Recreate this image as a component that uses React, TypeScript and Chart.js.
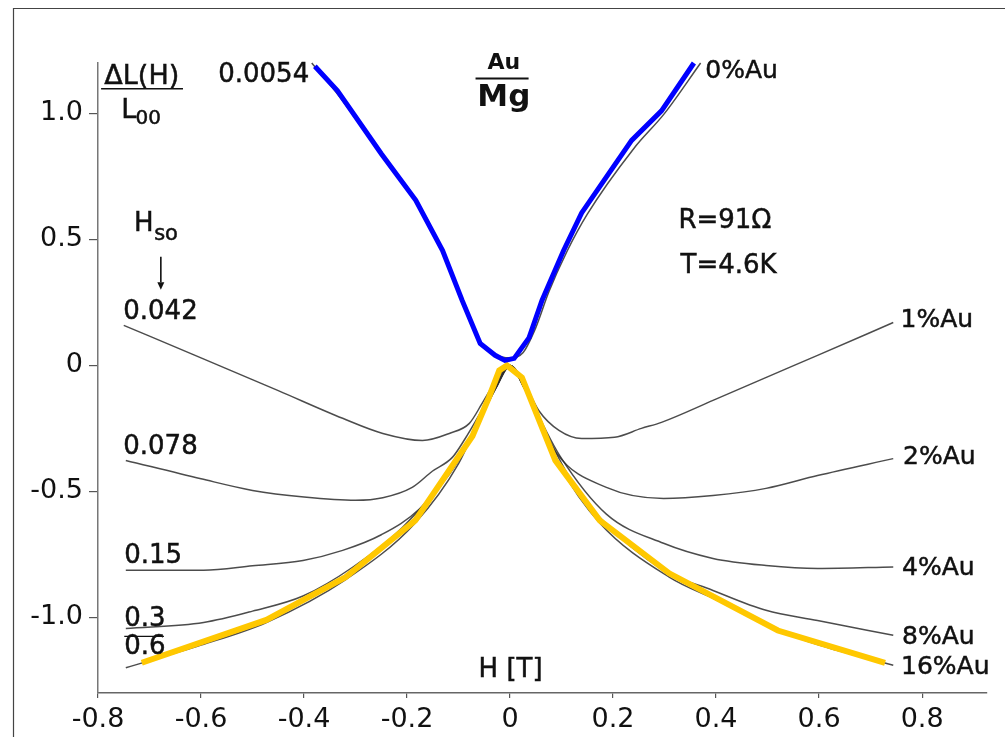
import { useEffect, useRef } from 'react';
import { Chart, registerables } from 'chart.js';

Chart.register(...registerables);

// ---- axis ticks ----
const X_TICKS = [-0.8, -0.6, -0.4, -0.2, 0, 0.2, 0.4, 0.6, 0.8];
const X_LABELS = ['-0.8', '-0.6', '-0.4', '-0.2', '0', '0.2', '0.4', '0.6', '0.8'];
const Y_TICKS = [1.0, 0.5, 0, -0.5, -1.0];
const Y_LABELS = ['1.0', '0.5', '0', '-0.5', '-1.0'];

// ---- series labels ----
const CURVE_LABELS = ['0%Au', '1%Au', '2%Au', '4%Au', '8%Au', '16%Au'];
const HSO_LABELS = ['0.0054', '0.042', '0.078', '0.15', '0.3', '0.6'];

// ---- measured curves (H [T], dL/L00) ----
const C0_H = [-0.385, -0.34, -0.25, -0.18, -0.13, -0.09, -0.06, -0.03, 0, 0.025, 0.05, 0.075, 0.11, 0.15, 0.24, 0.3, 0.37];
const C0_L = [1.2, 1.09, 0.84, 0.65, 0.45, 0.25, 0.1, 0.045, 0.03, 0.05, 0.15, 0.29, 0.45, 0.6, 0.86, 1.0, 1.2];

const C1_H = [-0.75, -0.6, -0.45, -0.325, -0.247, -0.17, -0.118, -0.079, -0.054, -0.03, 0, 0.03, 0.056, 0.095, 0.139, 0.203, 0.255, 0.294, 0.394, 0.597, 0.744];
const C1_L = [0.159, 0.03, -0.1, -0.21, -0.27, -0.298, -0.27, -0.23, -0.15, -0.07, 0, -0.08, -0.18, -0.258, -0.29, -0.285, -0.25, -0.226, -0.139, 0.04, 0.17];

const C2_H = [-0.746, -0.6, -0.5, -0.4, -0.3, -0.247, -0.19, -0.151, -0.112, -0.087, -0.055, -0.025, 0, 0.025, 0.055, 0.091, 0.187, 0.298, 0.394, 0.497, 0.597, 0.744];
const C2_L = [-0.377, -0.45, -0.496, -0.522, -0.535, -0.525, -0.484, -0.42, -0.365, -0.29, -0.18, -0.08, 0, -0.08, -0.2, -0.35, -0.484, -0.528, -0.516, -0.488, -0.437, -0.37];

const C4_H = [-0.746, -0.595, -0.5, -0.402, -0.325, -0.25, -0.176, -0.099, -0.06, -0.025, 0, 0.025, 0.06, 0.097, 0.187, 0.298, 0.394, 0.497, 0.597, 0.744];
const C4_L = [-0.813, -0.813, -0.795, -0.774, -0.734, -0.672, -0.57, -0.375, -0.22, -0.08, 0, -0.08, -0.22, -0.36, -0.59, -0.706, -0.766, -0.794, -0.806, -0.8];

const C8_H = [-0.746, -0.595, -0.5, -0.402, -0.305, -0.209, -0.12, -0.07, -0.03, 0, 0.03, 0.07, 0.12, 0.174, 0.298, 0.394, 0.497, 0.597, 0.744];
const C8_L = [-1.044, -1.02, -0.975, -0.915, -0.8, -0.643, -0.43, -0.26, -0.1, 0, -0.1, -0.27, -0.46, -0.603, -0.813, -0.893, -0.972, -1.012, -1.071];

const C16_H = [-0.746, -0.6, -0.473, -0.319, -0.184, -0.1, -0.05, -0.02, 0, 0.02, 0.05, 0.1, 0.174, 0.309, 0.4, 0.52, 0.6, 0.744];
const C16_L = [-1.2, -1.11, -1.02, -0.85, -0.625, -0.39, -0.17, -0.05, 0, -0.05, -0.17, -0.41, -0.625, -0.84, -0.93, -1.05, -1.11, -1.19];

// ---- highlighted traces ----
const BLUE_H = [-0.379, -0.335, -0.25, -0.183, -0.131, -0.093, -0.058, -0.029, -0.01, 0.008, 0.037, 0.062, 0.104, 0.139, 0.236, 0.294, 0.357];
const BLUE_L = [1.187, 1.09, 0.84, 0.655, 0.456, 0.258, 0.087, 0.04, 0.02, 0.028, 0.11, 0.258, 0.456, 0.605, 0.893, 1.01, 1.2];

const YEL_H = [-0.715, -0.473, -0.319, -0.184, -0.073, -0.041, -0.021, -0.006, 0.023, 0.088, 0.174, 0.309, 0.52, 0.728];
const YEL_L = [-1.18, -1.01, -0.84, -0.615, -0.28, -0.127, -0.02, 0.0, -0.048, -0.377, -0.615, -0.825, -1.052, -1.18];

const zip = (xs: number[], ys: number[]) => xs.map((x, i) => ({ x, y: ys[i] }));

const FONT = '"DejaVu Sans", sans-serif';
const INK = '#111';

const annotations = {
  id: 'annotations',
  beforeDraw(chart: any) {
    const { ctx, width, height } = chart;
    ctx.save();
    ctx.fillStyle = '#fff';
    ctx.fillRect(0, 0, width, height);
    ctx.strokeStyle = '#444';
    ctx.lineWidth = 1.2;
    ctx.beginPath();
    ctx.moveTo(13.5, height);
    ctx.lineTo(13.5, 8.5);
    ctx.lineTo(width, 8.5);
    ctx.stroke();
    ctx.restore();
  },
  afterDraw(chart: any) {
    const { ctx } = chart;
    const xs = chart.scales.x;
    const ys = chart.scales.y;
    const X = (v: number) => xs.getPixelForValue(v);
    const Y = (v: number) => ys.getPixelForValue(v);
    ctx.save();
    ctx.fillStyle = INK;
    ctx.strokeStyle = INK;
    ctx.textBaseline = 'middle';
    const text = (s: string, x: number, y: number, align: CanvasTextAlign, size: number, weight = 'normal') => {
      ctx.font = `${weight} ${size}px ${FONT}`;
      ctx.textAlign = align;
      ctx.fillText(s, X(x), Y(y));
      if (weight === 'normal') {
        ctx.lineWidth = 0.5;
        ctx.strokeText(s, X(x), Y(y));
      }
    };
    const hline = (x0: number, x1: number, y: number, w: number) => {
      ctx.lineWidth = w;
      ctx.beginPath();
      ctx.moveTo(X(x0), Y(y));
      ctx.lineTo(X(x1), Y(y));
      ctx.stroke();
    };

    // y-axis title  dL(H)/L00
    text('\u0394L(H)', -0.715, 1.146, 'center', 27);
    hline(-0.794, -0.635, 1.098, 1.6);
    text('L', -0.755, 1.011, 'left', 27);
    text('00', -0.727, 0.979, 'left', 20);

    // Au / Mg
    text('Au', -0.012, 1.2, 'center', 22, 'bold');
    hline(-0.067, 0.036, 1.138, 2);
    text('Mg', -0.012, 1.062, 'center', 31, 'bold');

    // H_so with arrow
    text('H', -0.73, 0.562, 'left', 26);
    text('so', -0.691, 0.518, 'left', 21);
    ctx.lineWidth = 1.6;
    ctx.beginPath();
    ctx.moveTo(X(-0.678), Y(0.431));
    ctx.lineTo(X(-0.678), Y(0.33));
    ctx.stroke();
    ctx.beginPath();
    ctx.moveTo(X(-0.678) - 3.5, Y(0.33));
    ctx.lineTo(X(-0.678) + 3.5, Y(0.33));
    ctx.lineTo(X(-0.678), Y(0.3));
    ctx.closePath();
    ctx.fill();

    // Hso values (left)
    const hsoPos = [
      [-0.39, 1.15, 'right'],
      [-0.751, 0.212, 'left'],
      [-0.751, -0.324, 'left'],
      [-0.749, -0.757, 'left'],
      [-0.749, -1.008, 'left'],
      [-0.749, -1.119, 'left'],
    ];
    HSO_LABELS.forEach((s, i) => {
      const p = hsoPos[i];
      text(s, p[0] as number, p[1] as number, p[2] as CanvasTextAlign, 26);
    });
    hline(-0.749, -0.672, -1.075, 1.2);

    // concentration labels (right)
    const curvePos = [
      [0.379, 1.168],
      [0.758, 0.18],
      [0.763, -0.364],
      [0.761, -0.805],
      [0.761, -1.079],
      [0.759, -1.198],
    ];
    CURVE_LABELS.forEach((s, i) => {
      text(s, curvePos[i][0], curvePos[i][1], 'left', 25);
    });

    text('R=91\u03A9', 0.327, 0.574, 'left', 26);
    text('T=4.6K', 0.331, 0.395, 'left', 26);
    text('H [T]', 0.001, -1.21, 'center', 26);
    ctx.restore();
  },
};

export default function App() {
  const ref = useRef<HTMLCanvasElement>(null);
  useEffect(() => {
    if (!ref.current) return;
    const thin = (xs: number[], ys: number[]) => ({
      data: zip(xs, ys),
      borderColor: 'rgba(45,45,45,0.85)',
      borderWidth: 1.5,
      pointRadius: 0,
      cubicInterpolationMode: 'monotone' as const,
      fill: false,
      order: 2,
      clip: false as const,
    });
    const chart = new Chart(ref.current, {
      type: 'line',
      data: {
        datasets: [
          {
            data: zip(BLUE_H, BLUE_L),
            borderColor: '#0000ff',
            borderWidth: 5,
            pointRadius: 0,
            tension: 0,
            order: 0,
            clip: false,
          } as any,
          {
            data: zip(YEL_H, YEL_L),
            borderColor: '#ffc800',
            borderWidth: 6,
            pointRadius: 0,
            tension: 0,
            order: 0,
            clip: false,
          } as any,
          thin(C0_H, C0_L),
          thin(C1_H, C1_L),
          thin(C2_H, C2_L),
          thin(C4_H, C4_L),
          thin(C8_H, C8_L),
          thin(C16_H, C16_L),
        ],
      },
      options: {
        animation: false,
        responsive: false,
        devicePixelRatio: 1,
        layout: { padding: { top: 63, right: 18, left: 0, bottom: 0 } },
        plugins: { legend: { display: false }, tooltip: { enabled: false } },
        scales: {
          x: {
            type: 'linear',
            min: -0.8,
            max: 0.926,
            afterBuildTicks: (s: any) => {
              s.ticks = X_TICKS.map((v) => ({ value: v }));
            },
            afterFit: (s: any) => {
              s.height = 44;
            },
            ticks: {
              callback: (_v: any, i: number) => X_LABELS[i],
              font: { family: 'DejaVu Sans', size: 27 },
              color: INK,
              padding: 6,
              maxRotation: 0,
              autoSkip: false,
            },
            grid: { drawOnChartArea: false, drawTicks: true, tickLength: 5, color: '#555', lineWidth: 1.2 },
            border: { display: true, color: '#666', width: 1.5 },
          },
          y: {
            type: 'linear',
            min: -1.3,
            max: 1.2,
            afterBuildTicks: (s: any) => {
              s.ticks = Y_TICKS.map((v) => ({ value: v }));
            },
            afterFit: (s: any) => {
              s.width = 98;
            },
            ticks: {
              callback: (_v: any, i: number) => Y_LABELS[i],
              font: { family: 'DejaVu Sans', size: 27 },
              color: INK,
              padding: 6,
              autoSkip: false,
            },
            grid: { drawOnChartArea: false, drawTicks: true, tickLength: 9, color: '#555', lineWidth: 1.2 },
            border: { display: true, color: '#777', width: 1.5, dash: [4, 2] },
          },
        },
      },
      plugins: [annotations],
    });
    return () => chart.destroy();
  }, []);
  return (
    <div style={{ position: 'absolute', left: 0, top: 0, width: 1005, height: 737 }}>
      <canvas ref={ref} width={1005} height={737} style={{ width: 1005, height: 737, display: 'block' }} />
    </div>
  );
}
